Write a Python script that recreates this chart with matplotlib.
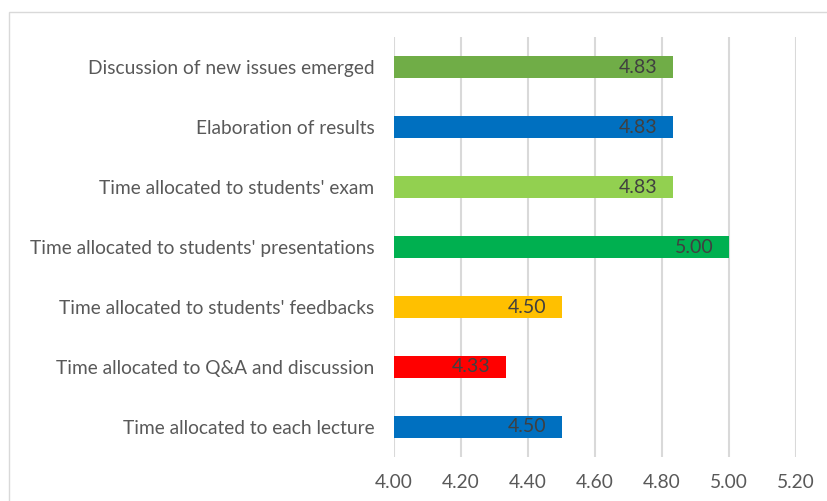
import matplotlib.pyplot as plt
from matplotlib.patches import Rectangle

plt.rcParams['font.family'] = ['Lato', 'DejaVu Sans']

categories = ["Time allocated to each lecture",
              "Time allocated to Q&A and discussion",
              "Time allocated to students' feedbacks",
              "Time allocated to students' presentations",
              "Time allocated to students' exam",
              "Elaboration of results",
              "Discussion of new issues emerged"]
values = [4.50, 4.333, 4.50, 5.00, 4.833, 4.833, 4.833]
colors = ["#0070C0", "#FF0000", "#FFC000", "#00B050", "#92D050", "#0070C0", "#70AD47"]
ticks = [4.00, 4.20, 4.40, 4.60, 4.80, 5.00, 5.20]

fig = plt.figure(figsize=(8.27, 5.01), dpi=100)
fig.patches.append(Rectangle((9 / 827, -0.1), 1.2, 1 - 12 / 501 + 0.1, transform=fig.transFigure,
                             fill=False, edgecolor="#D9D9D9", linewidth=1))
ax = fig.add_axes([394 / 827, 1 - 457 / 501, (796 - 394) / 827, (457 - 37) / 501])

pos = list(range(len(categories)))
bars = ax.barh(pos, [v - 4.0 for v in values], left=4.0, height=0.37, color=colors, zorder=3)
for b, v in zip(bars, values):
    ax.annotate(f"{v:.2f}", (v, b.get_y() + b.get_height() / 2), xytext=(-11, 0),
                textcoords="offset points", ha="right", va="center", fontsize=14, color="#404040", zorder=4)

ax.set_xlim(4.0, 5.2)
ax.set_ylim(-0.5, 6.5)
ax.set_xticks(ticks)
ax.set_xticklabels([f"{t:.2f}" for t in ticks], fontsize=13.8, color="#595959")
ax.set_yticks(pos)
ax.set_yticklabels(categories, fontsize=13.8, color="#595959")
ax.tick_params(length=0, pad=14)
ax.tick_params(axis="x", pad=12)
ax.xaxis.grid(True, color="#D9D9D9", linewidth=1.5, zorder=0)
for s in ax.spines.values():
    s.set_visible(False)

fig.savefig("out.png", dpi=100)
